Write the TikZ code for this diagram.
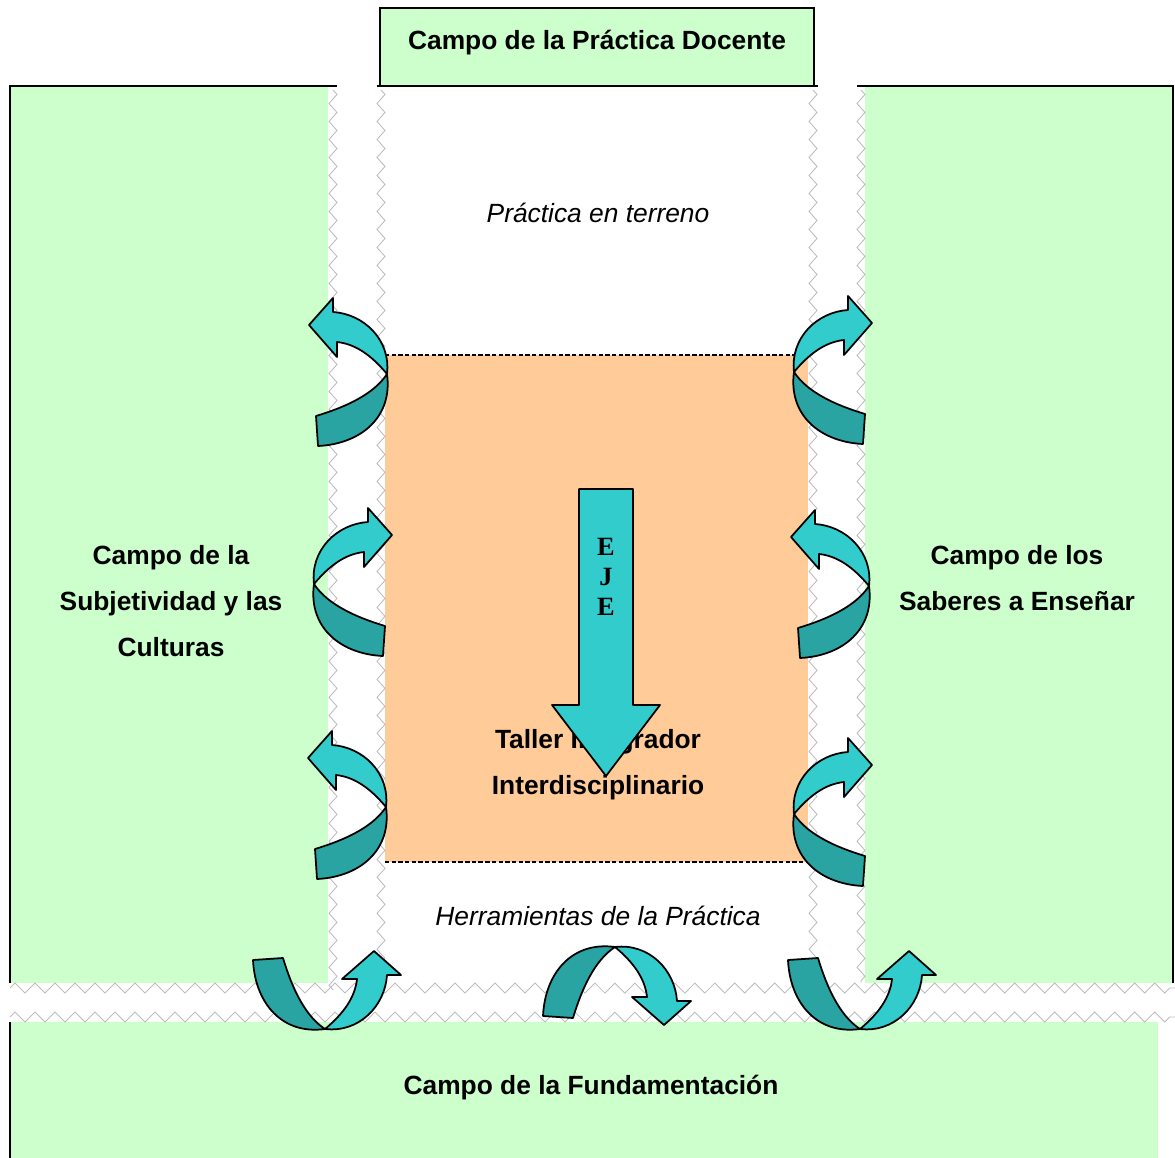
\documentclass[tikz,border=0pt]{standalone}
\usepackage{fontspec}
\setmainfont{Liberation Sans}
\newfontfamily\ejefont{Liberation Serif}
\usepackage{tikz}
\usetikzlibrary{positioning,decorations.pathmorphing}
\definecolor{campogreen}{HTML}{CCFFCC}
\definecolor{tallerorange}{HTML}{FFCC99}
\definecolor{curllight}{HTML}{33CCCC}
\definecolor{curldark}{HTML}{2AA3A3}
\definecolor{ziggray}{HTML}{BDBDBD}
\tikzset{
  campo/.style={fill=campogreen},
  border/.style={draw=black, line width=1.1pt},
  boldtext/.style={font=\fontsize{15}{26}\selectfont\bfseries, align=center, inner sep=0pt},
  italtext/.style={font=\fontsize{15}{18}\selectfont\itshape, inner sep=0pt},
  vzig/.style={draw=ziggray, line width=0.5pt, decorate,
               decoration={zigzag, segment length=0.36cm, amplitude=0.08cm}},
  hzig/.style={draw=ziggray, line width=0.5pt, decorate,
               decoration={zigzag, segment length=0.4cm, amplitude=0.1cm}},
  dashedge/.style={draw=black, line width=1.3pt, dash pattern=on 2.5pt off 1.3pt},
  curlline/.style={draw=black, line width=1pt, line join=round},
  curl/.pic={
    % back half of the ribbon
    \filldraw[curlline, fill=curldark] (-70,44) -- (-68,74)
      .. controls (-25,72) and (7,45) .. (1,2)
      .. controls (-12,22) and (-40,35) .. (-70,44) -- cycle;
    % front half with the head
    \filldraw[curlline, fill=curllight] (1,2)
      .. controls (5,-32) and (-22,-58) .. (-53,-60)
      -- (-53,-74) -- (-77,-47) -- (-49,-15) -- (-49,-30)
      .. controls (-30,-28) and (-14,-16) .. (1,2) -- cycle;
  },
}

\begin{document}
\begin{tikzpicture}[x=0.02cm, y=-0.02cm]
  \useasboundingbox (0,0) rectangle (1175,1158);

  % green fields
  \fill[campo] (10,86) rectangle (328,983);
  \fill[campo] (865,86) rectangle (1173,983);
  \fill[campo] (10,1022) rectangle (1158,1158);
  \draw[border] (337,86) -- (10,86) -- (10,983);
  \draw[border] (857,86) -- (1173,86) -- (1173,983);
  \draw[border] (10,1022) -- (10,1158);

  \filldraw[campo, border] (380,8) rectangle (814,86);
  \draw[border] (377,86) -- (818,86);

  % taller
  \fill[tallerorange] (385,355) rectangle (808,862);
  \draw[dashedge] (385,355) -- (808,355);
  \draw[dashedge] (385,862) -- (808,862);

  % zigzag edges
  \draw[vzig] (333,90) -- (333,990);
  \draw[vzig] (381,90) -- (381,975);
  \draw[vzig] (813,90) -- (813,975);
  \draw[vzig] (861,90) -- (861,983);
  \draw[hzig] (10,988) -- (1175,988);
  \draw[hzig] (10,1017) -- (1175,1017);

  % labels
  \node[boldtext] (docente) at (597,43) {Campo de la Práctica Docente};
  \node[italtext] (terreno) at (598,213) {Práctica en terreno};
  \node[italtext] (herramientas) at (598,916) {Herramientas de la Práctica};
  \node[boldtext] (taller) at (598,765) {Taller Integrador\\Interdisciplinario};
  \node[boldtext] (subjetividad) at (171,601) {Campo de la\\Subjetividad y las\\Culturas};
  \node[boldtext] (saberes) at (1017,578) {Campo de los\\Saberes a Enseñar};
  \node[boldtext] (fundamentacion) at (591,1088) {Campo de la Fundamentación};

  % eje
  \filldraw[curlline, fill=curllight] (579,489) -- (633,489) -- (633,705) -- (660,705)
    -- (606,776) -- (552,705) -- (579,705) -- cycle;
  \node[font=\fontsize{15}{17}\selectfont\ejefont\bfseries, align=center, inner sep=0pt]
    (eje) at (606,577) {E\\J\\E};

  % curled arrows
  \pic at (386,372) {curl};
  \pic[xscale=-1] at (315,582) {curl};
  \pic at (385,805) {curl};
  \pic[xscale=-1] at (795,370) {curl};
  \pic at (868,584) {curl};
  \pic[xscale=-1] at (795,812) {curl};
  \pic[rotate=-90] at (327,1028) {curl};
  \pic[rotate=-90] at (862,1028) {curl};
  \pic[cm={0,1,1,0,(0,0)}] at (617,948) {curl};
\end{tikzpicture}
\end{document}
